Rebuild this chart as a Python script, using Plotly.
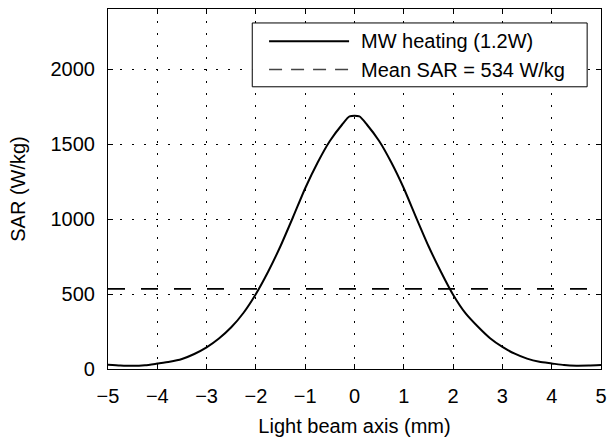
import plotly.graph_objects as go

# ---- data ----
beam_x = [-5, -4.75, -4.5, -4.25, -4, -3.75, -3.5, -3.25, -3, -2.75, -2.5, -2.25,
          -2, -1.75, -1.5, -1.25, -1, -0.75, -0.5, -0.25, -0.1, 0.1, 0.25, 0.5,
          0.75, 1, 1.25, 1.5, 1.75, 2, 2.25, 2.5, 2.75, 3, 3.25, 3.5, 3.75, 4,
          4.25, 4.5, 4.75, 5]
sar_mw = [28, 23, 21, 25, 36, 48, 67, 100, 144, 203, 278, 375,
          500, 650, 820, 1010, 1205, 1375, 1520, 1630, 1684, 1684, 1630, 1520,
          1375, 1205, 1010, 820, 650, 495, 372, 283, 205, 147, 102, 69, 48, 37,
          26, 22, 23, 26]
mean_x = [-5, 5]
mean_sar = [534, 534]

legend_labels = ["MW heating (1.2W)", "Mean SAR = 534 W/kg"]
x_ticks = [-5, -4, -3, -2, -1, 0, 1, 2, 3, 4, 5]
y_ticks = [0, 500, 1000, 1500, 2000]

FONT = "Liberation Sans, Arial, Helvetica, sans-serif"
FS = 20

fig = go.Figure()
fig.add_trace(go.Scatter(x=beam_x, y=sar_mw, mode="lines",
                         line=dict(color="black", width=2, shape="spline", smoothing=0.6),
                         showlegend=False, name=legend_labels[0]))
fig.add_trace(go.Scatter(x=mean_x, y=mean_sar, mode="lines",
                         line=dict(color="black", width=1.6, dash="17px,16px"),
                         showlegend=False, name=legend_labels[1]))

axis_common = dict(
    showline=True, linecolor="black", linewidth=1.2, mirror="ticks",
    ticks="inside", ticklen=5, tickcolor="black", tickwidth=1,
    showgrid=True, gridcolor="black", gridwidth=1, griddash="2px,10px",
    zeroline=False, tickfont=dict(family=FONT, size=FS, color="black"),
)

fig.update_xaxes(range=[-5, 5], tickvals=x_ticks, ticklabelstandoff=9,
                 title=dict(text="Light beam axis (mm)",
                            font=dict(family=FONT, size=FS, color="black"),
                            standoff=12),
                 **axis_common)
fig.update_yaxes(range=[0, 2400], tickvals=y_ticks, ticklabelstandoff=8,
                 title=dict(text="SAR (W/kg)",
                            font=dict(family=FONT, size=FS, color="black"),
                            standoff=19),
                 **axis_common)

# manual legend (paper coordinates of the plot area)
lx0, lx1, ly0, ly1 = 0.2926, 0.9719, 0.7839, 0.9612
s0, s1 = 0.3267, 0.4890
y1, y2 = 0.9105, 0.8319
tx = 0.509
fig.add_shape(type="rect", xref="paper", yref="paper", x0=lx0, x1=lx1, y0=ly0, y1=ly1,
              line=dict(color="black", width=1), fillcolor="white", layer="above")
fig.add_shape(type="line", xref="paper", yref="paper", x0=s0, x1=s1, y0=y1, y1=y1,
              line=dict(color="black", width=2), layer="above")
fig.add_shape(type="line", xref="paper", yref="paper", x0=s0, x1=s1, y0=y2, y1=y2,
              line=dict(color="#444", width=1.4, dash="13px,9px"), layer="above")
for yy, txt in zip([y1, y2], legend_labels):
    fig.add_annotation(xref="paper", yref="paper", x=tx, y=yy, text=txt,
                       showarrow=False, xanchor="left", yanchor="middle",
                       font=dict(family=FONT, size=FS, color="black"))

fig.update_layout(
    width=614, height=440,
    margin=dict(l=108, r=7, t=9, b=70),
    paper_bgcolor="white", plot_bgcolor="white",
    font=dict(family=FONT, size=FS, color="black"),
)

fig.write_html("out.html")
